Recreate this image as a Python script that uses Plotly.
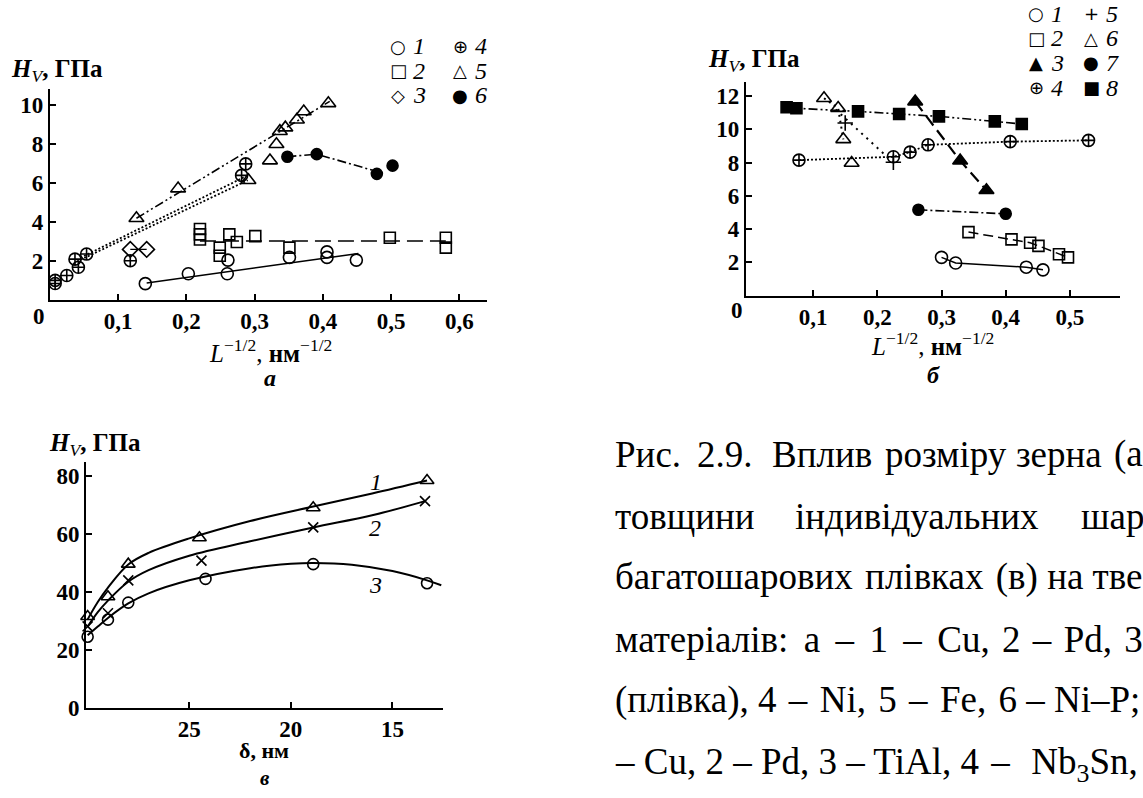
import plotly.graph_objects as go

W, H = 1143, 798

# ---------------- panel a data ----------------
a1_x = [0.140, 0.203, 0.260, 0.261, 0.351, 0.406, 0.406, 0.449]
a1_y = [0.84, 1.35, 1.35, 2.05, 2.19, 2.47, 2.19, 2.05]
a1_fit_x = [0.142, 0.452]
a1_fit_y = [0.875, 2.39]

a2_x = [0.220, 0.220, 0.220, 0.249, 0.249, 0.263, 0.274, 0.301, 0.351, 0.498, 0.580, 0.580]
a2_y = [3.65, 3.37, 3.11, 2.69, 2.27, 3.37, 2.98, 3.28, 2.69, 3.20, 3.20, 2.69]
a2_fit_x = [0.220, 0.580]
a2_fit_y = [3.03, 3.03]

a3_x = [0.118, 0.142]
a3_y = [2.60, 2.60]

a4_x = [0.008, 0.008, 0.025, 0.037, 0.042, 0.054, 0.118, 0.281, 0.287]
a4_y = [1.01, 0.85, 1.26, 2.10, 1.68, 2.36, 2.02, 6.40, 6.99]
a4_fit_x = [0.040, 0.290]
a4_fit_y = [1.98, 6.15]
a4b_fit_x = [0.045, 0.290]
a4b_fit_y = [2.17, 6.40]

a5_x = [0.127, 0.188, 0.291, 0.3225, 0.332, 0.337, 0.345, 0.362, 0.372, 0.408]
a5_y = [4.20, 5.72, 6.15, 7.16, 8.00, 8.67, 8.85, 9.26, 9.68, 10.10]
a5_fit_x = [0.127, 0.410]
a5_fit_y = [4.20, 10.20]

a6_x = [0.348, 0.391, 0.479, 0.502]
a6_y = [7.36, 7.49, 6.48, 6.90]
a6_fit_x = [0.348, 0.391, 0.479]
a6_fit_y = [7.36, 7.49, 6.60]

a_xticks = [0.1, 0.2, 0.3, 0.4, 0.5, 0.6]
a_xticktext = ["0,1", "0,2", "0,3", "0,4", "0,5", "0,6"]
a_yticks = [2, 4, 6, 8, 10]

# ---------------- panel б data ----------------
b1_x = [0.300, 0.322, 0.432, 0.458]
b1_y = [2.30, 1.96, 1.71, 1.55]
b2_x = [0.342, 0.409, 0.438, 0.451, 0.483, 0.497]
b2_y = [3.82, 3.38, 3.18, 2.99, 2.49, 2.30]
b3_x = [0.259, 0.329, 0.370]
b3_y = [11.67, 8.12, 6.34]
b4_x = [0.078, 0.225, 0.251, 0.279, 0.407, 0.529]
b4_y = [8.15, 8.35, 8.63, 9.07, 9.26, 9.34]
b5_x = [0.150, 0.225]
b5_y = [10.38, 8.02]
b5_fit_x = [0.135, 0.225]
b5_fit_y = [11.20, 8.00]
b6_x = [0.117, 0.139, 0.147, 0.160]
b6_y = [11.87, 11.28, 9.40, 7.98]
b6_fit_x = [0.117, 0.139, 0.147]
b6_fit_y = [11.87, 11.28, 9.40]
b7_x = [0.264, 0.400]
b7_y = [5.16, 4.92]
b8_x = [0.0587, 0.074, 0.170, 0.234, 0.296, 0.383, 0.425]
b8_y = [11.33, 11.27, 11.08, 10.92, 10.78, 10.48, 10.32]

b_xticks = [0.1, 0.2, 0.3, 0.4, 0.5]
b_xticktext = ["0,1", "0,2", "0,3", "0,4", "0,5"]
b_yticks = [2, 4, 6, 8, 10, 12]

# ---------------- panel в data ----------------
c1_x = [30.0, 29.0, 28.0, 24.5, 18.9, 13.3]
c1_y = [31.5, 38.3, 49.6, 58.7, 69.1, 78.5]
c2_x = [30.0, 29.0, 28.0, 24.4, 18.9, 13.4]
c2_y = [28.1, 32.6, 44.0, 50.8, 62.3, 71.4]
c3_x = [30.0, 29.0, 28.0, 24.2, 18.9, 13.3]
c3_y = [24.5, 30.4, 36.3, 44.5, 49.6, 43.0]

c1_curve_x = [30.0, 29.5, 29.0, 28.0, 27.0, 25.0, 22.0, 18.9, 16.0, 13.3]
c1_curve_y = [30.5, 36.5, 41.5, 49.5, 53.5, 58.5, 64.5, 69.5, 74.0, 78.5]
c2_curve_x = [30.0, 29.5, 29.0, 28.0, 27.0, 25.0, 22.0, 18.9, 16.0, 13.4]
c2_curve_y = [28.0, 33.0, 37.0, 43.5, 47.5, 52.5, 57.5, 62.3, 66.5, 71.4]
c3_curve_x = [30.0, 29.5, 29.0, 28.0, 27.0, 25.0, 22.0, 20.0, 18.9, 17.0, 15.0, 13.3, 12.6]
c3_curve_y = [25.0, 28.0, 31.0, 36.0, 39.5, 44.0, 48.2, 49.7, 50.0, 49.4, 47.2, 44.0, 42.3]

c_xticks = [25, 20, 15]
c_yticks = [0, 20, 40, 60, 80]

# legends / labels
a_legend = [("○", "1"), ("⊕", "4"), ("□", "2"), ("△", "5"), ("◇", "3"), ("●", "6")]
b_legend = [("○", "1"), ("+", "5"), ("□", "2"), ("△", "6"), ("▲", "3"), ("●", "7"), ("⊕", "4"), ("■", "8")]
c_labels = ["1", "2", "3"]
c_label_x = [15.8, 15.85, 15.85]
c_label_y = [78.0, 62.1, 42.3]

caption_line1 = ["Рис.", "2.9.", "Вплив", "розміру", "зерна", "(а"]
caption_line2 = ["товщини", "індивідуальних", "шар"]
caption_line3 = ["багатошарових", "плівках", "(в)", "на", "тве"]
caption_line4 = ["матеріалів:", "а", "–", "1", "–", "Cu,", "2", "–", "Pd,", "3"]
caption_line5 = ["(плівка),", "4", "–", "Ni,", "5", "–", "Fe,", "6", "–", "Ni–P;"]
caption_line6 = ["–", "Cu,", "2", "–", "Pd,", "3", "–", "TiAl,", "4", "– ", "Nb<sub>3</sub>Sn,"]

SERIF = "Liberation Serif"
HAIR, SIX = "\u200a", "\u2006"
fig = go.Figure()


def px(x):
    return x / W


def py(y):
    return 1 - y / H


def add(x, y, xa, ya, mode="markers", symbol="circle-open", size=10, dash="solid", lw=1.5, shape="linear"):
    fig.add_trace(go.Scatter(
        x=x, y=y, xaxis=xa, yaxis=ya, mode=mode, showlegend=False, hoverinfo="skip",
        marker=dict(symbol=symbol, size=size, color="black", line=dict(color="black", width=1.6)),
        line=dict(color="black", width=lw, dash=dash, shape=shape, smoothing=1.0),
        cliponaxis=False,
    ))


DDOT = "9px,3px,2px,3px,2px,3px"
DDASH = "9px,3px,2px,3px"

# panel a lines
add(a1_fit_x, a1_fit_y, "x", "y", mode="lines", lw=1.5)
add(a2_fit_x, a2_fit_y, "x", "y", mode="lines", dash="16px,7px", lw=1.5)
add(a3_x, a3_y, "x", "y", mode="lines", lw=1.3)
add(a4_fit_x, a4_fit_y, "x", "y", mode="lines", dash="2px,2px", lw=1.8)
add(a4b_fit_x, a4b_fit_y, "x", "y", mode="lines", dash="2px,2px", lw=1.8)
add(a5_fit_x, a5_fit_y, "x", "y", mode="lines", dash=DDOT, lw=1.6)
add(a6_fit_x, a6_fit_y, "x", "y", mode="lines", dash=DDASH, lw=1.6)
# panel a markers
add(a1_x, a1_y, "x", "y", symbol="circle-open", size=12)
add(a2_x, a2_y, "x", "y", symbol="square-open", size=11)
add(a3_x, a3_y, "x", "y", symbol="diamond-open", size=12)
add(a4_x, a4_y, "x", "y", symbol="circle-cross-open", size=12)
add(a5_x, a5_y, "x", "y", symbol="triangle-up-open", size=13)
add(a6_x, a6_y, "x", "y", symbol="circle", size=11)

# panel б lines
add(b1_x, b1_y, "x2", "y2", mode="lines", lw=1.5)
add(b2_x, b2_y, "x2", "y2", mode="lines", dash="10px,5px", lw=1.5)
add(b3_x, b3_y, "x2", "y2", mode="lines", dash="12px,6px", lw=2.2)
add(b4_x, b4_y, "x2", "y2", mode="lines", dash="2px,2px", lw=1.8)
add(b5_fit_x, b5_fit_y, "x2", "y2", mode="lines", dash="2px,5px", lw=2.0)
add(b6_fit_x, b6_fit_y, "x2", "y2", mode="lines", dash="2px,4px", lw=2.0)
add(b7_x, b7_y, "x2", "y2", mode="lines", dash=DDASH, lw=1.6)
add(b8_x, b8_y, "x2", "y2", mode="lines", dash=DDOT, lw=1.6)
# panel б markers
add(b1_x, b1_y, "x2", "y2", symbol="circle-open", size=12)
add(b2_x, b2_y, "x2", "y2", symbol="square-open", size=11)
add(b3_x, b3_y, "x2", "y2", symbol="triangle-up", size=13)
add(b4_x, b4_y, "x2", "y2", symbol="circle-cross-open", size=12)
add(b5_x, b5_y, "x2", "y2", symbol="cross-thin-open", size=11)
add(b6_x, b6_y, "x2", "y2", symbol="triangle-up-open", size=13)
add(b7_x, b7_y, "x2", "y2", symbol="circle", size=11)
add(b8_x, b8_y, "x2", "y2", symbol="square", size=11)

# panel в curves and markers
add(c1_curve_x, c1_curve_y, "x3", "y3", mode="lines", lw=2.0, shape="spline")
add(c2_curve_x, c2_curve_y, "x3", "y3", mode="lines", lw=2.0, shape="spline")
add(c3_curve_x, c3_curve_y, "x3", "y3", mode="lines", lw=2.0, shape="spline")
add(c1_x, c1_y, "x3", "y3", symbol="triangle-up-open", size=12)
add(c2_x, c2_y, "x3", "y3", symbol="x-thin-open", size=10)
add(c3_x, c3_y, "x3", "y3", symbol="circle-open", size=11)

tickfont = dict(family=SERIF, size=23, color="black", weight="bold")


def axstyle(**kw):
    d = dict(showline=True, linecolor="black", linewidth=1.7, ticks="inside", ticklen=6,
             tickwidth=1.6, tickcolor="black", showgrid=False, zeroline=False,
             tickfont=tickfont, fixedrange=True)
    d.update(kw)
    return d


fig.update_layout(
    width=W, height=H, margin=dict(l=0, r=0, t=0, b=0),
    paper_bgcolor="white", plot_bgcolor="rgba(0,0,0,0)", showlegend=False,
    xaxis=axstyle(domain=[px(49.7), px(486.8)], range=[0, 0.64], anchor="y",
                  tickmode="array", tickvals=a_xticks, ticktext=a_xticktext),
    yaxis=axstyle(domain=[py(305), py(90)], range=[0, 10.86], anchor="x",
                  tickmode="array", tickvals=a_yticks),
    xaxis2=axstyle(domain=[px(745.7), px(1120)], range=[-0.005, 0.578], anchor="y2",
                   tickmode="array", tickvals=b_xticks, ticktext=b_xticktext),
    yaxis2=axstyle(domain=[py(300.5), py(83)], range=[0, 12.87], anchor="x2",
                   tickmode="array", tickvals=b_yticks),
    xaxis3=axstyle(domain=[px(86), px(443.3)], range=[30.08, 12.5], anchor="y3",
                   tickmode="array", tickvals=c_xticks),
    yaxis3=axstyle(domain=[py(719.3), py(470)], range=[0, 84.8], anchor="x3",
                   tickmode="array", tickvals=c_yticks),
)

ann = []


def text(xp, yp, s, size=22, family=SERIF, xanchor="center", yanchor="middle", weight="normal", style="normal"):
    ann.append(dict(x=px(xp), y=py(yp), xref="paper", yref="paper", text=s, showarrow=False,
                    xanchor=xanchor, yanchor=yanchor,
                    font=dict(family=family, size=size, color="black", weight=weight, style=style)))


def join(words, extras):
    out = words[0]
    for w, e in zip(words[1:], extras):
        out += " " + e + w
    return out


# corner zeros
text(39, 322, "0", size=23, weight="bold")
text(737, 316, "0", size=23, weight="bold")

# y titles
HV = "<i><b>H</b></i><sub><i>V</i></sub><b>, ГПа</b>"
text(9, 72, HV, size=25, xanchor="left")
text(706, 61, HV, size=25, xanchor="left")
text(47, 452, HV, size=25, xanchor="left")

# x titles
LT = "<i>L</i><sup>−1/2</sup>, <b>нм</b><sup>−1/2</sup>"
text(270, 357, LT, size=25)
text(932, 350, LT, size=25)
text(264, 763, "<b>δ, нм</b>", size=22)

# sub captions
text(270, 384, "<b><i>a</i></b>", size=24)
text(933, 381, "<b><i>б</i></b>", size=24)
text(265, 791, "<b><i>в</i></b>", size=21)

# legend a
for i, (sym, lab) in enumerate(a_legend):
    col, row = i % 2, i // 2
    x0 = 398 + col * 62
    y0 = 47 + row * 25
    text(x0, y0, sym, size=18, family="DejaVu Sans")
    text(x0 + 13, y0, "<i>" + lab + "</i>", size=24, xanchor="left")

# legend б
for i, (sym, lab) in enumerate(b_legend):
    col, row = i % 2, i // 2
    x0 = 1036 + col * 55
    y0 = 14 + row * 25
    text(x0, y0, sym, size=18, family="DejaVu Sans")
    text(x0 + 13, y0, "<i>" + lab + "</i>", size=24, xanchor="left")

# curve labels в
for lab, lx, ly in zip(c_labels, c_label_x, c_label_y):
    ann.append(dict(x=lx, y=ly, xref="x3", yref="y3", text="<i>" + lab + "</i>", showarrow=False,
                    font=dict(family=SERIF, size=24, color="black")))

# caption text block
CAP = 37
line_y = [462, 525, 587, 650, 712, 777]
l1_pos = [613, 695, 770, 883, 1014, 1112]
for w, xp in zip(caption_line1, l1_pos):
    text(xp, line_y[0], w, size=CAP, xanchor="left")
text(613, line_y[1], caption_line2[0], size=CAP, xanchor="left")
text(1041, line_y[1], caption_line2[1], size=CAP, xanchor="right")
text(1079, line_y[1], caption_line2[2], size=CAP, xanchor="left")
text(613, line_y[2], join(caption_line3, [HAIR, HAIR, "", ""]), size=CAP, xanchor="left")
text(613, line_y[3], join(caption_line4, [SIX] * 5 + [HAIR] * 4), size=CAP, xanchor="left")
text(613, line_y[4], join(caption_line5, [""] + [HAIR] * 6 + ["", ""]), size=CAP, xanchor="left")
text(613, line_y[5], join(caption_line6, [""] * 8 + [HAIR] * 2), size=CAP, xanchor="left")

fig.update_layout(annotations=ann)

fig.write_html("out.html", config={"displayModeBar": False},
               post_script="document.body.style.margin='0px';document.body.style.overflow='hidden';")
